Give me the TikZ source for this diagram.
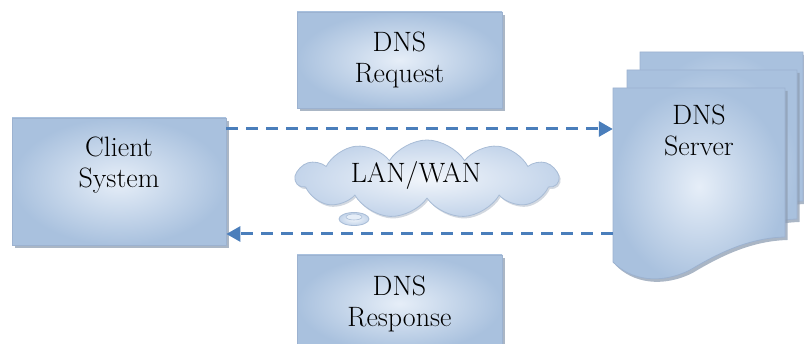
\documentclass[tikz,border=0pt]{standalone}
\usetikzlibrary{shapes.symbols,shadows,arrows.meta,calc}
\definecolor{boxlight}{HTML}{E6EEF8}
\definecolor{boxdark}{HTML}{A9C1DE}
\definecolor{boxline}{HTML}{9CB2D0}
\definecolor{arrowblue}{HTML}{4A7EBB}
\definecolor{shadowcol}{HTML}{8E9DB2}
\definecolor{cloudlight}{HTML}{F2F6FB}
\definecolor{clouddark}{HTML}{C3D4EA}
\definecolor{cloudline}{HTML}{A8BCD6}
\begin{document}
\begin{tikzpicture}[x=1pt,y=-1pt,
  boxshadow/.style={drop shadow={shadow xshift=2.5pt,shadow yshift=-3pt,fill=shadowcol,opacity=0.75}},
  box/.style={rectangle,draw=boxline,line width=0.8pt,shading=radial,inner color=boxlight,outer color=boxdark,boxshadow},
  doc/.style={draw=boxline,line width=0.8pt,shading=radial,inner color=boxlight,outer color=boxdark,boxshadow},
  txt/.style={font=\rmfamily\fontsize{28}{31}\selectfont,align=center,text=black},
  flow/.style={draw=arrowblue,line width=3pt,dash pattern=on 12pt off 8pt,-{Triangle[length=14pt,width=15pt]}}]
\useasboundingbox (0,0) rectangle (804,344);

% Client
\node[box,minimum width=214pt,minimum height=127pt] (client) at (119,181.5) {};
\node[txt,anchor=north] (clienttxt) at (119,133) {Client\\System};

% DNS Request / Response
\node[box,txt,minimum width=205pt,minimum height=96pt] (req) at (399.5,60) {DNS\\Request};
\node[box,txt,minimum width=205pt,minimum height=97pt] (resp) at (399.5,303.5) {DNS\\Response};

% Server (stack of documents)
\foreach \dx/\dy/\w in {27/-36/163, 14/-18/170}{
  \path[doc,shift={(\dx,\dy)}] (613,88) -- ++(\w,0) -- ++(0,149)
    .. controls ++(-35,1) and (720,252) .. (690,270)
    .. controls (660,285) and (630,280) .. (613,262) -- cycle;
}
\path[doc] (613,88) -- (785,88) -- (785,237)
    .. controls (750,238) and (720,252) .. (690,270)
    .. controls (660,285) and (630,280) .. (613,262) -- cycle;
\node[inner sep=0pt,minimum width=172pt,minimum height=149pt] (server) at (699,162.5) {};
\node[txt] (servertxt) at (699,130) {DNS\\Server};

% Cloud
\node[cloud,cloud puffs=11,cloud puff arc=115,aspect=3.4,draw=cloudline,line width=0.8pt,
      shading=radial,inner color=cloudlight,outer color=clouddark,
      minimum width=262pt,minimum height=78pt,
      drop shadow={shadow xshift=1.5pt,shadow yshift=-2pt,fill=shadowcol,opacity=0.4}] (net) at (427,179) {};
\node[txt] (nettxt) at (416,176) {LAN/WAN};
\path[draw=cloudline,line width=0.8pt,shading=radial,inner color=cloudlight,outer color=clouddark]
  (354,219) ellipse [x radius=15pt,y radius=6.5pt];
\path[draw=cloudline,line width=0.6pt,fill=boxlight] (354,217) ellipse [x radius=8pt,y radius=3pt];

% Connectors
\draw[flow] ([yshift=52.5pt]client.east) -- ([yshift=52.5pt]client.east -| server.west);
\draw[flow] ([yshift=-52.5pt]client.east -| server.west) -- ([yshift=-52.5pt]client.east);
\end{tikzpicture}
\end{document}
